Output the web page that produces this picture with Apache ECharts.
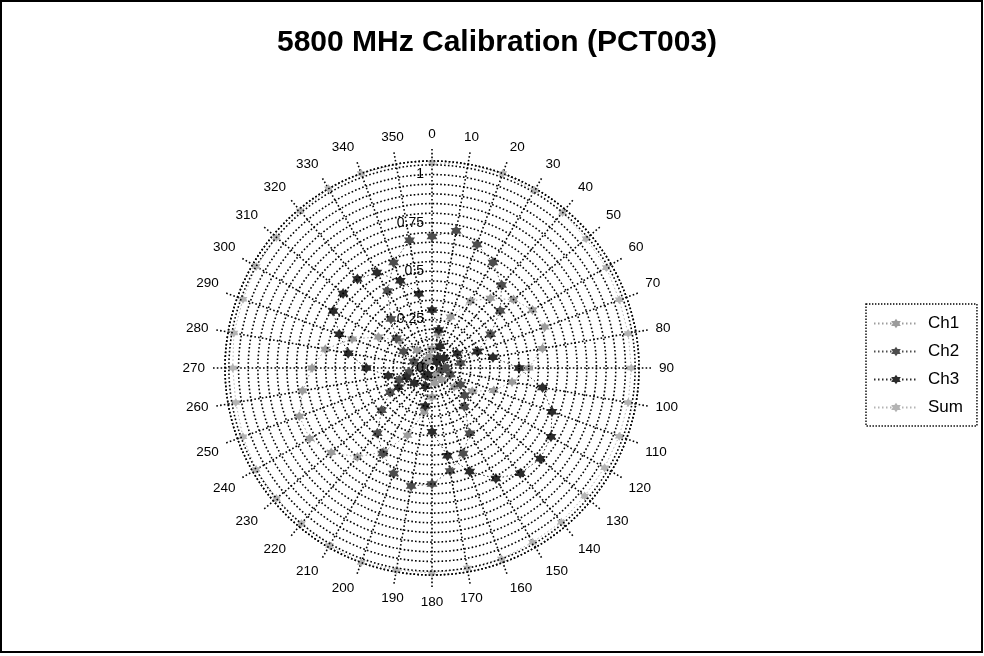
<!DOCTYPE html>
<html>
<head>
<meta charset="utf-8">
<script src="https://cdn.jsdelivr.net/npm/echarts@6/dist/echarts.min.js"></script>
<style>
  html, body { margin: 0; padding: 0; background: #fff; }
  #chart-container { width: 984px; height: 656px; }
</style>
</head>
<body>
<div id="chart-container"></div>
<script>
// angles in degrees, 0 at top, clockwise
const angles = [0, 10, 20, 30, 40, 50, 60, 70, 80, 90, 100, 110, 120, 130, 140, 150, 160, 170,
  180, 190, 200, 210, 220, 230, 240, 250, 260, 270, 280, 290, 300, 310, 320, 330, 340, 350];

const ch1 = [0.10, 0.18, 0.28, 0.40, 0.47, 0.55, 0.60, 0.62, 0.58, 0.50, 0.42, 0.34, 0.24, 0.15, 0.08, 0.04, 0.05, 0.08,
  0.15, 0.23, 0.37, 0.50, 0.60, 0.68, 0.73, 0.73, 0.68, 0.62, 0.56, 0.44, 0.32, 0.22, 0.12, 0.05, 0.04, 0.06];
const ch2 = [0.68, 0.72, 0.68, 0.63, 0.56, 0.46, 0.35, 0.25, 0.15, 0.07, 0.05, 0.10, 0.17, 0.22, 0.26, 0.39, 0.47, 0.54,
  0.60, 0.62, 0.58, 0.51, 0.44, 0.34, 0.25, 0.18, 0.12, 0.06, 0.05, 0.10, 0.17, 0.24, 0.33, 0.46, 0.58, 0.67];
const ch3 = [0.30, 0.20, 0.12, 0.06, 0.04, 0.08, 0.15, 0.25, 0.32, 0.45, 0.58, 0.66, 0.71, 0.73, 0.71, 0.66, 0.57, 0.46,
  0.33, 0.20, 0.10, 0.04, 0.05, 0.12, 0.20, 0.14, 0.23, 0.34, 0.44, 0.51, 0.59, 0.60, 0.60, 0.57, 0.48, 0.39];
const sum = [1.06, 1.07, 1.07, 1.06, 1.05, 1.04, 1.04, 1.03, 1.03, 1.03, 1.03, 1.03, 1.03, 1.03, 1.04, 1.04, 1.05, 1.05,
  1.06, 1.06, 1.07, 1.06, 1.05, 1.05, 1.05, 1.04, 1.03, 1.03, 1.04, 1.04, 1.05, 1.05, 1.06, 1.07, 1.07, 1.07];

const radiusLabels = [0, 0.25, 0.5, 0.75, 1];

const starPath =
  "path://M0,-10 L2.9,-5 L8.7,-5 L5.8,0 L8.7,5 L2.9,5 L0,10 L-2.9,5 L-8.7,5 L-5.8,0 L-8.7,-5 L-2.9,-5 Z";

const toPolar = (vals) => vals.map((v, i) => [v, angles[i]]);

const dom = document.getElementById("chart-container");
const myChart = echarts.init(dom, null, { renderer: "canvas" });

const gridLine = { color: "#000", width: 1.6, type: [1.6, 2.2] };

function makeSeries(name, vals, color, size) {
  return {
    name: name,
    type: "line",
    coordinateSystem: "polar",
    data: toPolar(vals),
    symbol: starPath,
    symbolSize: size,
    lineStyle: { color: color, width: 1, type: [1.5, 2.5] },
    itemStyle: { color: color },
    animation: false,
    z: 3,
  };
}

const option = {
  backgroundColor: "#fff",
  textStyle: { fontFamily: "Liberation Sans, Arial, sans-serif" },
  title: {
    text: "5800 MHz Calibration (PCT003)",
    left: 492,
    top: 23,
    textAlign: "center",
    textStyle: { fontSize: 30, fontWeight: "bold", color: "#000" },
  },
  legend: {
    orient: "vertical",
    left: 866,
    top: 304,
    itemWidth: 44,
    itemHeight: 12,
    itemGap: 11,
    padding: [11, 14, 10, 7],
    borderColor: "#000",
    borderWidth: 1.4,
    borderType: [1.4, 1.6],
    textStyle: { fontSize: 17, color: "#000", padding: [0, 0, 0, 5] },
    data: ["Ch1", "Ch2", "Ch3", "Sum"],
  },
  polar: {
    center: [432, 368],
    radius: 207,
  },
  angleAxis: {
    type: "value",
    min: 0,
    max: 360,
    interval: 10,
    startAngle: 90,
    clockwise: true,
    axisLine: { show: true, lineStyle: gridLine },
    axisTick: { show: true, inside: false, length: 12, lineStyle: gridLine },
    axisLabel: {
      margin: 20,
      fontSize: 13.5,
      color: "#000",
      formatter: (v) => (v === 360 ? "" : String(v)),
    },
    splitLine: { show: true, lineStyle: gridLine },
  },
  radiusAxis: {
    type: "value",
    min: 0,
    max: 1.07,
    interval: 0.05,
    axisLine: { show: false },
    axisTick: { show: false },
    axisLabel: {
      fontSize: 14,
      color: "#000",
      margin: 8,
      formatter: (v) => {
        const hit = radiusLabels.find((r) => Math.abs(r - v) < 1e-6);
        return hit === undefined ? "" : String(hit);
      },
    },
    splitLine: { show: true, lineStyle: gridLine },
    z: 5,
  },
  graphic: [
    {
      type: "rect",
      shape: { x: 1, y: 1, width: 981, height: 651 },
      style: { fill: null, stroke: "#000", lineWidth: 2 },
      silent: true,
    },
  ],
  series: [
    makeSeries("Ch1", ch1, "#9c9c9c", 10),
    makeSeries("Ch2", ch2, "#4d4d4d", 11),
    makeSeries("Ch3", ch3, "#2b2b2b", 11),
    makeSeries("Sum", sum, "#b4b4b4", 9),
  ],
};

if (option && typeof option === "object") {
  myChart.setOption(option);
}

window.addEventListener("resize", myChart.resize);
</script>
</body>
</html>
